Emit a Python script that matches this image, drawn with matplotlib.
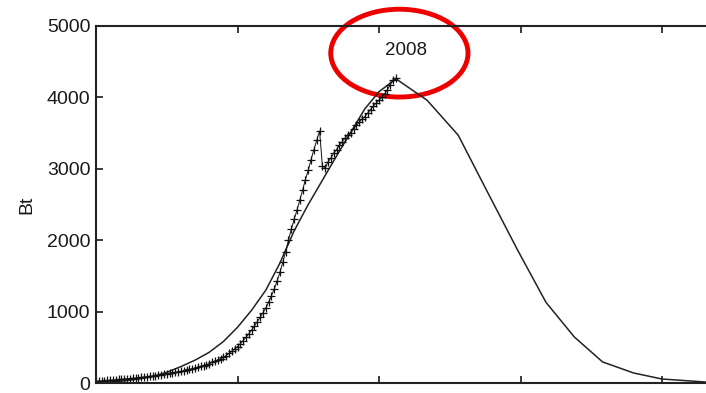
import matplotlib.pyplot as plt
from matplotlib.patches import Ellipse

plt.rcParams['font.family'] = ['Liberation Sans Narrow', 'Liberation Sans', 'DejaVu Sans']

# observed series, one value per year 1900-2006
obs_years = list(range(1900, 2007))
obs_values = [
    25, 28, 30, 33, 36, 40, 42, 46, 50, 52,
    56, 60, 63, 68, 70, 75, 80, 85, 88, 95,
    100, 105, 112, 118, 124, 130, 138, 145, 152, 158,
    165, 175, 183, 192, 200, 210, 222, 235, 245, 258,
    270, 288, 305, 322, 340, 360, 385, 415, 445, 478,
    510, 550, 595, 640, 690, 740, 800, 860, 920, 985,
    1050, 1130, 1220, 1320, 1430, 1550, 1690, 1840, 2000, 2150,
    2290, 2420, 2560, 2700, 2850, 2980, 3130, 3270, 3400, 3530,
    3040, 3010, 3100, 3150, 3220, 3270, 3330, 3380, 3430, 3480,
    3500, 3560, 3610, 3650, 3700, 3730, 3780, 3830, 3880, 3920,
    3960, 4000, 4050, 4110, 4180, 4250, 4270,
]

# fitted curve
fit_years = [1900, 1910, 1915, 1920, 1925, 1930, 1935, 1940, 1945, 1950,
             1955, 1960, 1965, 1970, 1975, 1980, 1985, 1990, 1995, 2000,
             2006, 2017, 2028, 2038, 2049, 2059, 2069, 2079, 2090, 2100,
             2116]
fit_values = [0, 30, 55, 90, 150, 230, 320, 430, 580, 780,
              1020, 1300, 1680, 2130, 2500, 2840, 3180, 3510, 3840, 4080,
              4260, 3960, 3470, 2700, 1860, 1130, 645, 295, 140, 56,
              12]

y_ticks = [0, 1000, 2000, 3000, 4000, 5000]
x_ticks = [1900, 1950, 2000, 2050, 2100, 2150]
peak_label = "2008"

fig = plt.figure(figsize=(7.06, 3.93), dpi=100)
ax = fig.add_axes([96 / 706, 10 / 393, 707.5 / 706, 357 / 393])

ax.plot(fit_years, fit_values, color='#222222', linewidth=1.1)
ax.plot(obs_years, obs_values, color='#111111', linewidth=0.7,
        marker='+', markersize=6, markeredgewidth=0.9)

ax.set_xlim(1900, 2150)
ax.set_ylim(0, 5000)
ax.set_yticks(y_ticks)
ax.set_xticks(x_ticks)
ax.set_xticklabels([''] * len(x_ticks))
ax.tick_params(direction='in', length=5, width=1.2, top=True, right=True,
               labelsize=14, pad=4, colors='#1a1a1a')
for s in ax.spines.values():
    s.set_linewidth(1.5)
    s.set_color('#222222')
ax.set_ylabel("Bt", fontsize=14, labelpad=8, color='#1a1a1a')

ax.text(2009.5, 4660, peak_label, ha='center', va='center', fontsize=13.5,
        color='#1a1a1a')
ax.add_patch(Ellipse((2007.2, 4620), 48.5, 1230, fill=False,
                     edgecolor='#ee0000', linewidth=3.5, clip_on=False))

fig.savefig("out.png", dpi=100)
